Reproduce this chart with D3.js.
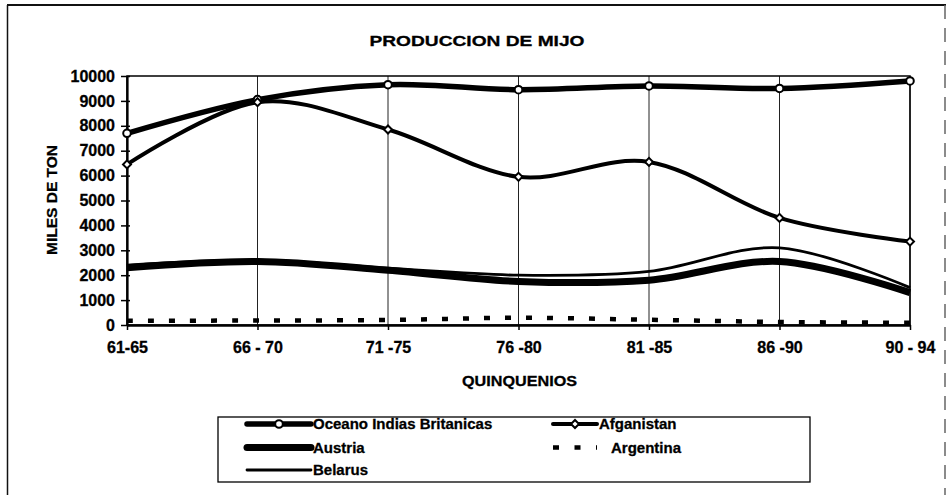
<!DOCTYPE html>
<html>
<head>
<meta charset="utf-8">
<script src="https://cdn.jsdelivr.net/npm/d3@7"></script>
<style>
  body { margin: 0; background: #fff; }
  text { font-family: "Liberation Sans", Arial, sans-serif; font-weight: bold; fill: #000; stroke: #000; stroke-width: 0.3px; }
</style>
</head>
<body>
<div id="chart"></div>
<script>
var width = 950;
var height = 495;

// quinquenios and values (miles de ton)
var categories = ["61-65", "66 - 70", "71 -75", "76 -80", "81 -85", "86 -90", "90 - 94"];
var oceano     = [7700, 9050, 9650, 9450, 9600, 9500, 9800];
var afganistan = [6450, 8950, 7850, 5950, 6550, 4300, 3350];
var austria    = [2300, 2550, 2200, 1750, 1800, 2550, 1300];
var argentina  = [170, 180, 200, 290, 210, 120, 90];
var belarus    = [2400, 2600, 2280, 2000, 2150, 3100, 1500];
var yTicks = [0, 1000, 2000, 3000, 4000, 5000, 6000, 7000, 8000, 9000, 10000];

var plot = {left: 127, right: 910, top: 76, bottom: 325};

var series = [
  {name: "Oceano Indias Britanicas", values: oceano, width: 5.5, marker: "circle"},
  {name: "Afganistan", values: afganistan, width: 4, marker: "diamond"},
  {name: "Austria", values: austria, width: 7},
  {name: "Argentina", values: argentina, width: 4.5, dash: "6,15"},
  {name: "Belarus", values: belarus, width: 2.8}
];

var x = d3.scalePoint()
  .domain(categories)
  .range([plot.left, plot.right]);

var y = d3.scaleLinear()
  .domain([0, 10000])
  .range([plot.bottom, plot.top]);

var svg = d3.select("#chart")
  .append("svg")
  .attr("width", width)
  .attr("height", height);

// outer frame (scanned page, right side broken)
svg.append("line").attr("x1", 7).attr("x2", 946).attr("y1", 5).attr("y2", 5)
  .attr("stroke", "#111").attr("stroke-width", 2);
svg.append("line").attr("x1", 7.5).attr("x2", 7.5).attr("y1", 5).attr("y2", 495)
  .attr("stroke", "#111").attr("stroke-width", 1.5);
svg.append("line").attr("x1", 945).attr("x2", 945).attr("y1", 5).attr("y2", 495)
  .attr("stroke", "#666").attr("stroke-width", 1.5).attr("stroke-dasharray", "14,9");

svg.append("text")
  .attr("x", 477).attr("y", 46)
  .attr("text-anchor", "middle")
  .attr("font-size", 15)
  .attr("textLength", 215).attr("lengthAdjust", "spacingAndGlyphs")
  .attr("stroke-width", 0.6)
  .text("PRODUCCION DE MIJO");

// vertical gridlines
svg.append("g")
  .selectAll("line")
  .data(categories)
  .enter()
  .append("line")
  .attr("x1", d => x(d)).attr("x2", d => x(d))
  .attr("y1", plot.top).attr("y2", plot.bottom)
  .attr("stroke", "#222").attr("stroke-width", 1);

// plot box
svg.append("rect")
  .attr("x", plot.left).attr("y", plot.top)
  .attr("width", plot.right - plot.left).attr("height", plot.bottom - plot.top)
  .attr("fill", "none").attr("stroke", "#000").attr("stroke-width", 1.5);

// y axis
var yAxis = d3.axisLeft(y).tickValues(yTicks).tickFormat(d3.format("d"))
  .tickSizeInner(6).tickSizeOuter(0).tickPadding(8);
var gy = svg.append("g").attr("transform", "translate(" + plot.left + ",0)").call(yAxis);
gy.select(".domain").attr("stroke", "#000").attr("stroke-width", 2.2);
gy.selectAll(".tick line").attr("stroke", "#000").attr("stroke-width", 1.5).attr("x2", -6).attr("x1", 3);
gy.selectAll(".tick text").attr("font-size", 16).attr("font-family", null).attr("x", -12);

// x axis
var xAxis = d3.axisBottom(x).tickSizeInner(5).tickSizeOuter(0).tickPadding(12);
var gx = svg.append("g").attr("transform", "translate(0," + plot.bottom + ")").call(xAxis);
gx.select(".domain").attr("stroke", "#000").attr("stroke-width", 2.5);
gx.selectAll(".tick line").attr("stroke", "#000").attr("stroke-width", 1.5);
gx.selectAll(".tick text").attr("font-size", 16).attr("font-family", null).attr("dy", null).attr("y", 28);

svg.append("text")
  .attr("x", 519.5).attr("y", 386)
  .attr("text-anchor", "middle")
  .attr("font-size", 15)
  .attr("textLength", 115).attr("lengthAdjust", "spacingAndGlyphs")
  .text("QUINQUENIOS");

svg.append("text")
  .attr("transform", "translate(57,200) rotate(-90)")
  .attr("text-anchor", "middle")
  .attr("font-size", 15.5)
  .text("MILES DE TON");

// smoothed lines like the spreadsheet
var line = d3.line()
  .x((d, i) => x(categories[i]))
  .y(d => y(d))
  .curve(d3.curveCardinal.tension(0));

var lines = svg.append("g");
series.forEach(function(s) {
  lines.append("path")
    .datum(s.values)
    .attr("d", line)
    .attr("fill", "none")
    .attr("stroke", "#000")
    .attr("stroke-width", s.width)
    .attr("stroke-linejoin", "round")
    .attr("stroke-dasharray", s.dash || null);
});

var diamond = d3.symbol().type(d3.symbolSquare).size(32);

function drawMarker(g, type, cx, cy) {
  if (type == "circle") {
    g.append("circle").attr("cx", cx).attr("cy", cy).attr("r", 3.8)
      .attr("fill", "#fff").attr("stroke", "#000").attr("stroke-width", 2);
  } else if (type == "diamond") {
    g.append("path").attr("d", diamond)
      .attr("transform", "translate(" + cx + "," + cy + ") rotate(45)")
      .attr("fill", "#fff").attr("stroke", "#000").attr("stroke-width", 2);
  }
}

var markers = svg.append("g");
series.forEach(function(s) {
  if (!s.marker) return;
  s.values.forEach(function(v, i) {
    drawMarker(markers, s.marker, x(categories[i]), y(v));
  });
});

// legend
var legend = svg.append("g");
legend.append("rect")
  .attr("x", 218).attr("y", 417).attr("width", 592).attr("height", 65)
  .attr("fill", "none").attr("stroke", "#000").attr("stroke-width", 1.3);

var legendPos = [
  {col: 0, row: 0}, {col: 1, row: 0}, {col: 0, row: 1}, {col: 1, row: 1}, {col: 0, row: 2}
];
var colX = [[247, 311], [553, 597]];
var rowY = [424, 447.5, 470];

series.forEach(function(s, i) {
  var p = legendPos[i];
  var x0 = colX[p.col][0], x1 = colX[p.col][1], ly = rowY[p.row];
  legend.append("line")
    .attr("x1", x0).attr("x2", x1).attr("y1", ly).attr("y2", ly)
    .attr("stroke", "#000")
    .attr("stroke-width", s.width)
    .attr("stroke-linecap", s.dash ? "butt" : "round")
    .attr("stroke-dasharray", s.dash ? "6,15.5" : null);
  if (s.marker) drawMarker(legend, s.marker, (x0 + x1) / 2, ly);
  legend.append("text")
    .attr("x", x1 + (s.dash ? 14 : 2)).attr("y", ly + 5)
    .attr("font-size", 15)
    .text(s.name);
});
</script>
</body>
</html>
